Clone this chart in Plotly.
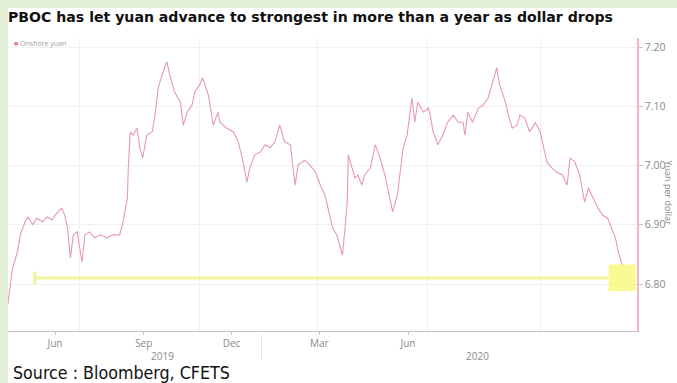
import plotly.graph_objects as go
import pandas as pd

# Onshore yuan (CNY per USD), sampled every few days
DATES = [
    "2019-04-13", "2019-04-18", "2019-04-23", "2019-04-26", "2019-05-01", "2019-05-04",
    "2019-05-09", "2019-05-13", "2019-05-19", "2019-05-24", "2019-05-29", "2019-06-03",
    "2019-06-08", "2019-06-11", "2019-06-14", "2019-06-17", "2019-06-20", "2019-06-24",
    "2019-06-29", "2019-07-02", "2019-07-07", "2019-07-12", "2019-07-18", "2019-07-25",
    "2019-07-31", "2019-08-07", "2019-08-10", "2019-08-15", "2019-08-16", "2019-08-18",
    "2019-08-21", "2019-08-25", "2019-08-28", "2019-08-31", "2019-09-04", "2019-09-10",
    "2019-09-13", "2019-09-16", "2019-09-21", "2019-09-25", "2019-09-28", "2019-10-03",
    "2019-10-09", "2019-10-12", "2019-10-16", "2019-10-21", "2019-10-24", "2019-10-29",
    "2019-11-01", "2019-11-07", "2019-11-12", "2019-11-17", "2019-11-19", "2019-11-26",
    "2019-12-03", "2019-12-08", "2019-12-13", "2019-12-17", "2019-12-20", "2019-12-25",
    "2019-12-31", "2020-01-05", "2020-01-10", "2020-01-15", "2020-01-20", "2020-01-25",
    "2020-01-31", "2020-02-03", "2020-02-05", "2020-02-08", "2020-02-15", "2020-02-20",
    "2020-02-26", "2020-03-02", "2020-03-07", "2020-03-10", "2020-03-15", "2020-03-19",
    "2020-03-25", "2020-03-28", "2020-03-30", "2020-03-31", "2020-04-04", "2020-04-07",
    "2020-04-10", "2020-04-14", "2020-04-17", "2020-04-23", "2020-04-28", "2020-05-03",
    "2020-05-08", "2020-05-13", "2020-05-16", "2020-05-21", "2020-05-24", "2020-05-27",
    "2020-05-31", "2020-06-05", "2020-06-08", "2020-06-11", "2020-06-17", "2020-06-22",
    "2020-06-24", "2020-06-27", "2020-07-02", "2020-07-07", "2020-07-12", "2020-07-18",
    "2020-07-23", "2020-07-28", "2020-07-30", "2020-08-02", "2020-08-07", "2020-08-13",
    "2020-08-18", "2020-08-23", "2020-08-27", "2020-08-30", "2020-09-01", "2020-09-04",
    "2020-09-10", "2020-09-13", "2020-09-17", "2020-09-22", "2020-09-25", "2020-09-30",
    "2020-10-05", "2020-10-11", "2020-10-16", "2020-10-19", "2020-10-23", "2020-10-28",
    "2020-11-02", "2020-11-08", "2020-11-13", "2020-11-16", "2020-11-21", "2020-11-26",
    "2020-12-01", "2020-12-05", "2020-12-10", "2020-12-15", "2020-12-20", "2020-12-25",
    "2020-12-29", "2021-01-02", "2021-01-05", "2021-01-09",
]
ONSHORE_YUAN = [
    6.765, 6.827, 6.854, 6.883, 6.905, 6.913,
    6.900, 6.911, 6.905, 6.913, 6.908, 6.920,
    6.928, 6.916, 6.894, 6.844, 6.883, 6.888,
    6.837, 6.883, 6.888, 6.878, 6.883, 6.878,
    6.883, 6.883, 6.900, 6.945, 6.996, 7.057,
    7.051, 7.063, 7.030, 7.013, 7.051, 7.057,
    7.090, 7.131, 7.158, 7.175, 7.153, 7.124,
    7.107, 7.068, 7.090, 7.102, 7.124, 7.136,
    7.148, 7.119, 7.068, 7.090, 7.073, 7.063,
    7.057, 7.040, 7.006, 6.972, 6.996, 7.018,
    7.023, 7.035, 7.030, 7.040, 7.068, 7.040,
    7.035, 6.996, 6.967, 7.001, 7.009, 7.001,
    6.989, 6.967, 6.950, 6.928, 6.894, 6.883,
    6.849, 6.900, 6.938, 7.018, 6.996, 6.979,
    6.984, 6.967, 6.984, 6.996, 7.035, 7.013,
    6.984, 6.945, 6.922, 6.950, 6.996, 7.030,
    7.051, 7.114, 7.073, 7.107, 7.090, 7.097,
    7.085, 7.057, 7.035, 7.051, 7.073, 7.085,
    7.073, 7.073, 7.051, 7.090, 7.073, 7.097,
    7.102, 7.114, 7.136, 7.153, 7.165, 7.136,
    7.107, 7.085, 7.063, 7.068, 7.085, 7.080,
    7.057, 7.072, 7.057, 7.035, 7.006, 6.996,
    6.989, 6.984, 6.967, 7.013, 7.006, 6.984,
    6.938, 6.962, 6.945, 6.928, 6.916, 6.911,
    6.894, 6.878, 6.854, 6.832,
]

Y_TICKS = [6.80, 6.90, 7.00, 7.10, 7.20]
X_TICK_DATES = ["2019-06-01", "2019-09-01", "2019-12-01", "2020-03-01", "2020-06-01"]
X_TICK_TEXT = ["Jun", "Sep", "Dec", "Mar", "Jun"]
YEAR_LABELS = ["2019", "2020"]
YEAR_LABEL_DATES = ["2019-09-20", "2020-08-12"]
GUIDE_DATES = ["2019-06-26", "2019-10-29", "2020-02-28", "2020-06-21", "2020-10-16"]

HIGHLIGHT_LEVEL = 6.81
HIGHLIGHT_START = "2019-05-11"

TITLE = "PBOC has let yuan advance to strongest in more than a year as dollar drops"
SOURCE = "Source : Bloomberg, CFETS"
Y_TITLE = "Yuan per dollar"

LINE_COLOR = "#e89aae"
GRID_COLOR = "#f1f1f1"
TEXT_GREY = "#8a8a8a"
FRAME_GREEN = "#e2eed6"

W, H = 677, 383
M_L, M_R, M_T, M_B = 8, 40, 38, 52
PLOT_W = W - M_L - M_R
PLOT_H = H - M_T - M_B


def px_x(px):
    return (px - M_L) / PLOT_W


def px_y(py):
    return (H - M_B - py) / PLOT_H


fig = go.Figure()
fig.add_trace(go.Scatter(
    x=pd.to_datetime(DATES), y=ONSHORE_YUAN, mode="lines",
    line=dict(color=LINE_COLOR, width=1.1), name="Onshore yuan",
    showlegend=False, hoverinfo="x+y",
))

last_date = pd.to_datetime(DATES[-1])
box_half = pd.Timedelta(days=14)

shapes = [
    # pale green frame along the top and left edges
    dict(type="rect", xref="paper", yref="paper", x0=px_x(0), x1=px_x(W),
         y0=px_y(8), y1=px_y(0), fillcolor=FRAME_GREEN, line=dict(width=0), layer="above"),
    dict(type="rect", xref="paper", yref="paper", x0=px_x(0), x1=px_x(8),
         y0=px_y(H), y1=px_y(0), fillcolor=FRAME_GREEN, line=dict(width=0), layer="above"),
    # level the yuan last traded at
    dict(type="line", xref="x", yref="y", x0=HIGHLIGHT_START, x1=last_date - box_half,
         y0=HIGHLIGHT_LEVEL, y1=HIGHLIGHT_LEVEL, line=dict(color="#f0f59a", width=3)),
    dict(type="line", xref="x", yref="y", x0=HIGHLIGHT_START, x1=HIGHLIGHT_START,
         y0=HIGHLIGHT_LEVEL - 0.011, y1=HIGHLIGHT_LEVEL + 0.011,
         line=dict(color="#f0f59a", width=3)),
    dict(type="rect", xref="x", yref="y", x0=last_date - box_half, x1=last_date + box_half,
         y0=HIGHLIGHT_LEVEL - 0.022, y1=HIGHLIGHT_LEVEL + 0.023,
         fillcolor="rgba(245,245,60,0.55)", line=dict(width=0), layer="above"),
    # year divider under the date axis
    dict(type="line", xref="x", yref="paper", x0="2020-01-01", x1="2020-01-01",
         y0=px_y(335), y1=px_y(360), line=dict(color="#e4e4e4", width=1)),
]

annotations = [
    dict(xref="paper", yref="paper", x=px_x(12), y=px_y(44), xanchor="left", yanchor="middle",
         text='<span style="color:#e07b97">■</span> Onshore yuan', showarrow=False,
         font=dict(family="Open Sans", size=7, color="#a0a0a0")),
    dict(xref="paper", yref="paper", x=px_x(11), y=px_y(373), xanchor="left", yanchor="middle",
         text=SOURCE, showarrow=False,
         font=dict(family="DejaVu Sans Condensed, Liberation Sans, sans-serif",
                   size=17.7, color="#111111")),
    # value-axis title, running down the right edge of the page
    dict(xref="paper", yref="paper", x=px_x(677), y=px_y(192), xanchor="right",
         yanchor="middle", text=Y_TITLE, textangle=90, showarrow=False,
         font=dict(family="Open Sans", size=9, color=TEXT_GREY)),
]
for label, d in zip(YEAR_LABELS, YEAR_LABEL_DATES):
    annotations.append(dict(xref="x", yref="paper", x=d, y=px_y(356), xanchor="center",
                            yanchor="middle", text=label, showarrow=False,
                            font=dict(family="Open Sans", size=10, color=TEXT_GREY)))

fig.update_layout(
    width=W, height=H,
    margin=dict(l=M_L, r=M_R, t=M_T, b=M_B, autoexpand=False),
    paper_bgcolor="white", plot_bgcolor="white",
    title=dict(text=f"<b>{TITLE}</b>", x=8 / W, xref="container",
               xanchor="left", y=1 - 17 / H, yanchor="middle",
               font=dict(family="DejaVu Sans", size=14.1, color="#111111")),
    shapes=shapes, annotations=annotations,
    showlegend=False,
)

fig.update_xaxes(
    type="date", range=["2019-04-13 06:30", "2021-01-24 09:30"],
    tickvals=X_TICK_DATES, ticktext=X_TICK_TEXT,
    showgrid=False, showline=True, linecolor="#c4c4c4", linewidth=1,
    ticks="outside", ticklen=3, tickcolor="#c4c4c4",
    tickfont=dict(family="Open Sans", size=10, color=TEXT_GREY),
    minor=dict(tickvals=GUIDE_DATES, showgrid=True, gridcolor=GRID_COLOR, ticks=""),
    zeroline=False, automargin=False,
)
fig.update_yaxes(
    side="right", range=[6.7207, 7.2152], tickvals=Y_TICKS, tickformat=".2f",
    showgrid=True, gridcolor=GRID_COLOR, zeroline=False,
    showline=True, linecolor="#f2b3c4", linewidth=1.5,
    ticks="outside", ticklen=4, tickcolor="#c4c4c4",
    tickfont=dict(family="Open Sans", size=10.5, color=TEXT_GREY),
    automargin=False,
)

fig.write_html("out.html")
